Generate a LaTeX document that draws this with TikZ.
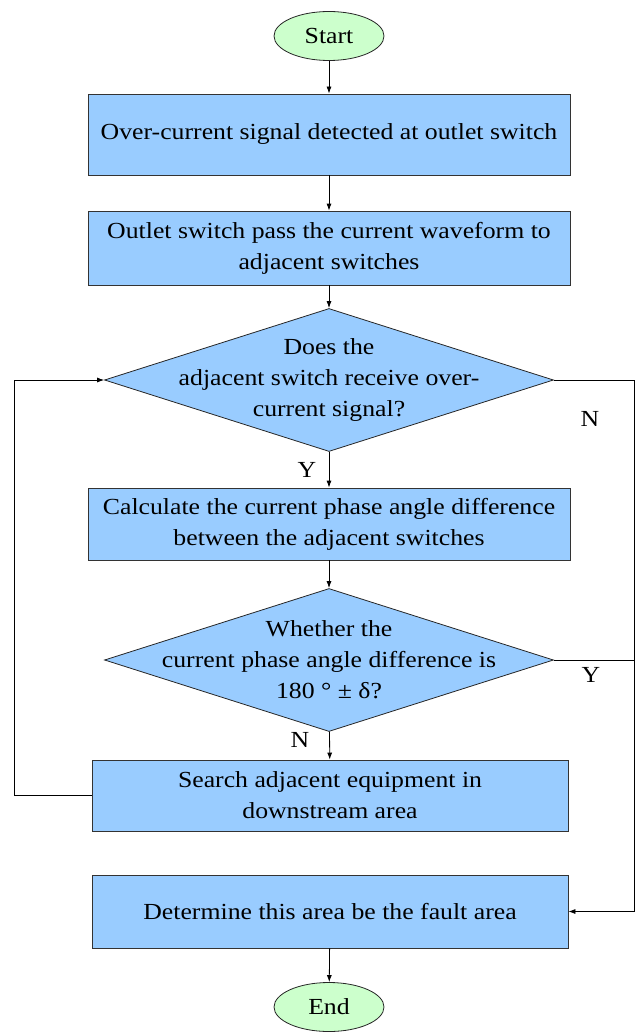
\documentclass[tikz,border=0pt]{standalone}
\usepackage{fontspec}
\setmainfont[FakeStretch=1.12]{Liberation Serif}
\usetikzlibrary{shapes.geometric,arrows.meta}
\definecolor{boxblue}{RGB}{153,204,255}
\definecolor{termgreen}{RGB}{204,255,204}
\begin{document}
\begin{tikzpicture}[x=1pt, y=-1pt, line width=0.8pt,
    font=\fontsize{23}{31}\selectfont,
    process/.style={rectangle, draw=black!80, fill=boxblue, align=center},
    decision/.style={diamond, draw=black!85, fill=boxblue, inner sep=0pt,
        minimum width=449pt, minimum height=143pt},
    terminal/.style={ellipse, draw=black!85, fill=termgreen,
        minimum width=110pt, minimum height=49pt},
    flow/.style={-{Latex[length=7pt,width=5pt]}}]
    \useasboundingbox (0,0) rectangle (636,1035);

    \node[terminal] (start) at (329,36) {Start};
    \node[process, minimum width=482pt, minimum height=81pt] (detect) at (329,134.5) {Over-current signal detected at outlet switch};
    \node[process, minimum width=482pt, minimum height=74pt] (pass) at (329,248) {Outlet switch pass the current waveform to\\adjacent switches};
    \node[decision, label={[align=center]center:Does the\\adjacent switch receive over-\\current signal?}] (receive) at (329,380) {};
    \node[process, minimum width=482pt, minimum height=72pt] (calc) at (329,524) {Calculate the current phase angle difference\\between the adjacent switches};
    \node[decision, label={[align=center]center:Whether the\\current phase angle difference is\\180 ° ± δ?}] (phase) at (329,660) {};
    \node[process, minimum width=476pt, minimum height=71pt] (search) at (330,795.5) {Search adjacent equipment in\\downstream area};
    \node[process, minimum width=476pt, minimum height=73pt] (fault) at (330,911.5) {Determine this area be the fault area};
    \node[terminal] (end) at (329,1007) {End};

    \coordinate (lft) at (14,0);
    \coordinate (rgt) at (634,0);

    \draw[flow] (start) -- (detect);
    \draw[flow] (detect) -- (pass);
    \draw[flow] (pass) -- (receive);
    \draw[flow] (receive) -- (calc);
    \draw[flow] (calc) -- (phase);
    \draw[flow] (phase) -- (search);
    \draw[flow] (fault) -- (end);

    \draw[flow] (search.west) -| (lft |- receive.west) -- (receive.west);
    \draw[flow] (receive.east) -- (rgt |- receive.east) |- (fault.east);
    \draw (phase.east) -- (rgt |- phase.east);

    \node (yes1) at (307,470) {Y};
    \node (no1) at (590,419) {N};
    \node (yes2) at (591,675) {Y};
    \node (no2) at (300,740) {N};
\end{tikzpicture}
\end{document}
